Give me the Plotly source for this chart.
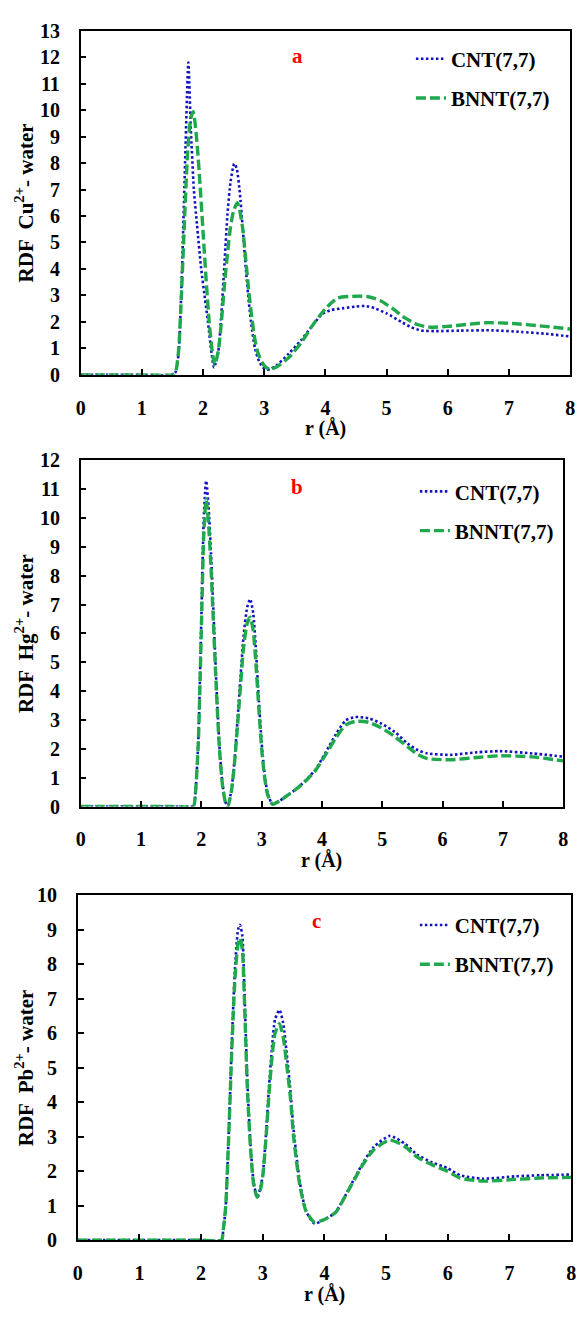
import plotly.graph_objects as go

# ---------------- data ----------------
# Panel a : Cu2+ - water
r_a_cnt = [0, 0.5, 1.0, 1.5, 1.55, 1.6, 1.65, 1.7, 1.76, 1.8, 1.85, 1.9, 1.97, 2.03,
           2.08, 2.14, 2.18, 2.25, 2.3, 2.35, 2.4, 2.45, 2.51, 2.55, 2.6, 2.65, 2.7, 2.75,
           2.8, 2.85, 2.9, 2.97, 3.04, 3.1, 3.2, 3.4, 3.6, 3.8, 3.95, 4.1, 4.3, 4.5, 4.65,
           4.8, 5.0, 5.24, 5.4, 5.56, 5.8, 6.2, 6.74, 7.2, 7.6, 8.0]
g_a_cnt = [0, 0, 0, 0, 0.1, 0.8, 3.5, 7.5, 11.8, 9.3, 7.0, 5.7, 4.0, 2.9,
           2.0, 0.8, 0.28, 0.9, 2.3, 4.2, 6.1, 7.3, 7.98, 7.8, 6.9, 5.5, 4.0, 2.7,
           1.7, 1.0, 0.6, 0.3, 0.19, 0.22, 0.35, 0.8, 1.3, 1.9, 2.3, 2.45, 2.52, 2.58, 2.6,
           2.52, 2.32, 2.0, 1.8, 1.68, 1.65, 1.67, 1.68, 1.62, 1.55, 1.45]
r_a_bnnt = [0, 0.5, 1.0, 1.5, 1.55, 1.6, 1.65, 1.7, 1.75, 1.8, 1.84, 1.9, 1.95, 2.0,
            2.05, 2.1, 2.15, 2.19, 2.25, 2.3, 2.35, 2.4, 2.45, 2.5, 2.56, 2.6, 2.65, 2.7,
            2.75, 2.8, 2.85, 2.9, 3.0, 3.09, 3.2, 3.4, 3.6, 3.8, 4.0, 4.2, 4.5, 4.7, 4.9,
            5.1, 5.3, 5.5, 5.7, 6.0, 6.3, 6.63, 7.06, 7.5, 8.0]
g_a_bnnt = [0, 0, 0, 0, 0.1, 0.9, 3.2, 6.0, 8.5, 9.7, 9.94, 8.8, 7.2, 5.4,
            3.6, 2.0, 0.9, 0.37, 0.9, 2.0, 3.4, 4.6, 5.6, 6.2, 6.5, 6.2, 5.5, 4.3,
            3.1, 2.1, 1.3, 0.8, 0.35, 0.21, 0.3, 0.65, 1.2, 1.9, 2.5, 2.9, 2.97, 2.95, 2.8,
            2.5, 2.15, 1.9, 1.8, 1.83, 1.9, 1.97, 1.94, 1.85, 1.73]

# Panel b : Hg2+ - water
r_b = [0, 0.5, 1.0, 1.5, 1.87, 1.9, 1.95, 2.0, 2.04, 2.08, 2.12, 2.16, 2.2, 2.25,
       2.3, 2.35, 2.4, 2.44, 2.5, 2.55, 2.6, 2.65, 2.7, 2.76, 2.81, 2.86, 2.9, 2.95,
       3.0, 3.05, 3.1, 3.18, 3.3, 3.47, 3.6, 3.75, 3.9, 4.0, 4.12, 4.23, 4.39, 4.55,
       4.77, 4.99, 5.21, 5.42, 5.59, 5.75, 6.13, 6.57, 6.95, 7.49, 8.0]
g_b_cnt = [0, 0, 0, 0, 0.02, 0.4, 2.3, 6.5, 10.0, 11.29, 10.4, 8.8, 6.8, 4.2,
           2.1, 0.8, 0.15, 0.02, 0.6, 1.6, 3.0, 4.5, 5.9, 6.9, 7.19, 6.7, 5.6, 3.8,
           2.2, 1.1, 0.45, 0.08, 0.2, 0.45, 0.65, 0.95, 1.3, 1.65, 2.1, 2.5, 2.98, 3.1,
           3.06, 2.87, 2.58, 2.18, 1.95, 1.84, 1.79, 1.88, 1.92, 1.84, 1.73]
g_b_bnnt = [0, 0, 0, 0, 0.02, 0.4, 2.2, 6.1, 9.4, 10.66, 9.8, 8.3, 6.4, 4.0,
            2.0, 0.75, 0.15, 0.02, 0.55, 1.5, 2.8, 4.2, 5.5, 6.35, 6.56, 6.1, 5.1, 3.5,
            2.0, 1.0, 0.4, 0.08, 0.2, 0.45, 0.65, 0.93, 1.27, 1.6, 2.0, 2.38, 2.82, 2.95,
            2.92, 2.72, 2.42, 2.07, 1.8, 1.66, 1.62, 1.7, 1.76, 1.72, 1.58]

# Panel c : Pb2+ - water
r_c = [0, 0.5, 1.0, 1.5, 2.0, 2.33, 2.36, 2.4, 2.45, 2.5, 2.55, 2.6, 2.63, 2.67,
       2.7, 2.75, 2.8, 2.85, 2.91, 2.96, 3.0, 3.05, 3.1, 3.15, 3.2, 3.27, 3.33, 3.4,
       3.45, 3.5, 3.6, 3.7, 3.84, 4.0, 4.18, 4.4, 4.61, 4.8, 5.06, 5.3, 5.51, 5.75,
       5.99, 6.2, 6.57, 7.1, 7.5, 8.0]
g_c_cnt = [0, 0, 0, 0, 0, 0, 0.3, 1.0, 3.2, 5.8, 7.9, 9.0, 9.14, 8.8,
           7.4, 4.6, 2.8, 1.7, 1.24, 1.5, 1.9, 3.0, 4.4, 5.6, 6.4, 6.67, 6.3, 5.2,
           4.3, 3.2, 1.7, 0.85, 0.48, 0.6, 0.81, 1.5, 2.19, 2.7, 3.02, 2.8, 2.47, 2.25,
           2.09, 1.88, 1.78, 1.85, 1.88, 1.9]
g_c_bnnt = [0, 0, 0, 0, 0, 0, 0.3, 1.0, 3.1, 5.6, 7.6, 8.6, 8.75, 8.4,
            7.1, 4.4, 2.7, 1.65, 1.24, 1.45, 1.85, 2.9, 4.2, 5.3, 6.0, 6.27, 5.9, 4.9,
            4.1, 3.0, 1.6, 0.85, 0.52, 0.6, 0.8, 1.48, 2.15, 2.62, 2.9, 2.72, 2.4, 2.18,
            2.0, 1.8, 1.71, 1.76, 1.8, 1.82]

series_names = ["CNT(7,7)", "BNNT(7,7)"]
panel_letters = ["a", "b", "c"]
y_titles = ["RDF  Cu<sup>2+</sup>- water", "RDF  Hg<sup>2+</sup>- water",
            "RDF  Pb<sup>2+</sup>- water"]
x_title = "r (Å)"
y_max = [13, 12, 10]
x_ticks = [0, 1, 2, 3, 4, 5, 6, 7, 8]

# ---------------- styling / layout ----------------
W, H = 584, 1319
FONT = "Liberation Serif"
BLUE = "#1212C0"
GREEN = "#1FA84C"


def px(x):
    return x / W


def py(y):
    return 1 - y / H


# plot-area boxes in pixels (left, right, top, bottom)
boxes = [(77, 575, 20, 370), (77, 568, 457, 809), (74, 576, 899, 1250)]
letter_pos = [(298, 46), (297, 484), (317, 925)]
legend_top = [28, 468, 909]
legend_left = [413, 417, 417]

panels = [
    (r_a_cnt, g_a_cnt, r_a_bnnt, g_a_bnnt),
    (r_b, g_b_cnt, r_b, g_b_bnnt),
    (r_c, g_c_cnt, r_c, g_c_bnnt),
]

fig = go.Figure()
annotations = []
for i, (rc, gc, rb, gb) in enumerate(panels):
    n = i + 1
    xa = "x" if n == 1 else f"x{n}"
    ya = "y" if n == 1 else f"y{n}"
    leg = "legend" if n == 1 else f"legend{n}"
    fig.add_trace(go.Scatter(
        x=rc, y=gc, mode="lines", name=series_names[0], xaxis=xa, yaxis=ya,
        legend=leg, legendgroup=f"c{n}",
        line=dict(color=BLUE, width=2.6, dash="2.5px,2.5px", shape="spline", smoothing=0.6),
    ))
    fig.add_trace(go.Scatter(
        x=rb, y=gb, mode="lines", name=series_names[1], xaxis=xa, yaxis=ya,
        legend=leg, legendgroup=f"b{n}",
        line=dict(color=GREEN, width=3.4, dash="10px,4px", shape="spline", smoothing=0.6),
    ))

    l, rgt, t, b = boxes[i]
    axis_common = dict(
        showline=True, linecolor="black", linewidth=1.6, mirror=True,
        ticks="inside", ticklen=6, tickwidth=1.5, tickcolor="black",
        showgrid=False, zeroline=False,
        tickfont=dict(family=FONT, size=20, color="black", weight="bold"),
    )
    fig.layout[f"xaxis{n if n > 1 else ''}"] = dict(
        axis_common, domain=[px(l), px(rgt)], range=[0, 8], tickvals=x_ticks,
        anchor=ya, ticklabelstandoff=14,
    )
    fig.layout[f"yaxis{n if n > 1 else ''}"] = dict(
        axis_common, domain=[py(b), py(t)], range=[0, y_max[i]], dtick=1,
        anchor=xa, ticklabelstandoff=15,
    )

    fig.layout[leg] = dict(
        x=px(legend_left[i]), y=py(legend_top[i]), xanchor="left", yanchor="top",
        bgcolor="rgba(0,0,0,0)", borderwidth=0, traceorder="grouped",
        tracegroupgap=9,
        font=dict(family=FONT, size=21, color="black", weight="bold"),
    )

    annotations.append(dict(
        text=panel_letters[i], x=px(letter_pos[i][0]), y=py(letter_pos[i][1]),
        xref="paper", yref="paper", showarrow=False, xanchor="center", yanchor="middle",
        font=dict(family=FONT, size=21, color="red", weight="bold"),
    ))
    annotations.append(dict(
        text=y_titles[i], x=px(20), y=py((t + b) / 2), xref="paper", yref="paper",
        showarrow=False, textangle=-90, xanchor="center", yanchor="middle",
        font=dict(family=FONT, size=21, color="black", weight="bold"),
    ))
    annotations.append(dict(
        text=x_title, x=px((l + rgt) / 2), y=py(b + 55), xref="paper", yref="paper",
        showarrow=False, xanchor="center", yanchor="middle",
        font=dict(family=FONT, size=20, color="black", weight="bold"),
    ))

fig.update_layout(
    width=W, height=H, margin=dict(l=0, r=0, t=0, b=0),
    paper_bgcolor="white", plot_bgcolor="white",
    annotations=annotations, showlegend=True,
)

fig.write_html("out.html")
